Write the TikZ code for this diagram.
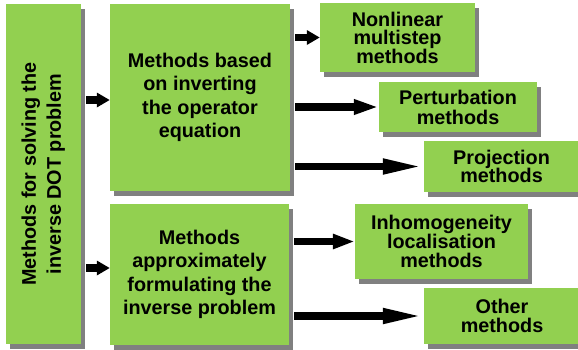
\documentclass[tikz,border=0pt]{standalone}
\usepackage{fontspec}
\setmainfont{Liberation Sans}
\usetikzlibrary{arrows.meta,shadows}
\definecolor{boxgreen}{RGB}{146,208,80}
\definecolor{shadowgray}{RGB}{128,128,128}
\begin{document}
\begin{tikzpicture}[x=1pt,y=-1pt,
  box/.style={draw=none, fill=boxgreen, inner sep=0pt, align=center,
    font=\bfseries\fontsize{19.8pt}{19pt}\selectfont,
    drop shadow={shadow xshift=4pt, shadow yshift=-4.5pt, fill=shadowgray, opacity=1}},
  mainbox/.style={box, font=\bfseries\fontsize{19.8pt}{23.5pt}\selectfont},
  arr/.style={line width=7.3pt, -{Triangle[length=#1, width=14pt]}},
  arr/.default=13pt
]
\useasboundingbox (0,0) rectangle (578,349);
\clip (0,0) rectangle (578,349);

% left box
\node[box, minimum width=75pt, minimum height=340pt,
  font=\bfseries\fontsize{19.8pt}{25pt}\selectfont] (L) at (43.5,174)
  {\rotatebox{90}{\begin{tabular}{@{}c@{}}Methods for solving the\\ inverse DOT problem\end{tabular}}};

% main boxes
\node[mainbox, minimum width=180pt, minimum height=187pt] (M1) at (200,97.5)
  {Methods based\\ on inverting\\ the operator\\ equation};
\node[mainbox, minimum width=179pt, minimum height=141pt] (M2) at (199.5,274.5)
  {Methods\\ approximately\\ formulating the\\ inverse problem};

% right boxes
\node[box, minimum width=155pt, minimum height=69pt, font=\bfseries\fontsize{19.8pt}{18.5pt}\selectfont] (R1) at (397.5,37.5)
  {Nonlinear\\ multistep\\ methods};
\node[box, minimum width=158pt, minimum height=50pt, font=\bfseries\fontsize{19.8pt}{20pt}\selectfont] (R2) at (458,107)
  {Perturbation\\ methods};
\node[box, minimum width=155pt, minimum height=51pt, font=\bfseries\fontsize{19.8pt}{18.5pt}\selectfont] (R3) at (501.5,166.5)
  {Projection\\ methods};
\node[box, minimum width=173pt, minimum height=75pt] (R4) at (441.5,241.5)
  {Inhomogeneity\\ localisation\\ methods};
\node[box, minimum width=156pt, minimum height=56pt] (R5) at (502,316)
  {Other\\ methods};

% connectors
\coordinate (a1) at ([yshift=-2.5pt]M1.west);
\coordinate (a2) at ([yshift=6.5pt]M2.west);
\draw[arr] ([xshift=5pt]a1 -| L.east) -- (a1);
\draw[arr] ([xshift=5pt]a2 -| L.east) -- (a2);
\draw[arr=13pt] ([xshift=5pt]R1.west -| M1.east) -- (R1.west);
\draw[arr=25pt] ([xshift=5pt]R2.west -| M1.east) -- (R2.west);
\draw[arr=41pt] ([xshift=5pt]R3.west -| M1.east) -- (R3.west);
\draw[arr=22pt] ([xshift=5pt]R4.west -| M2.east) -- (R4.west);
\draw[arr=41pt] ([xshift=5pt]R5.west -| M2.east) -- (R5.west);
\end{tikzpicture}
\end{document}
